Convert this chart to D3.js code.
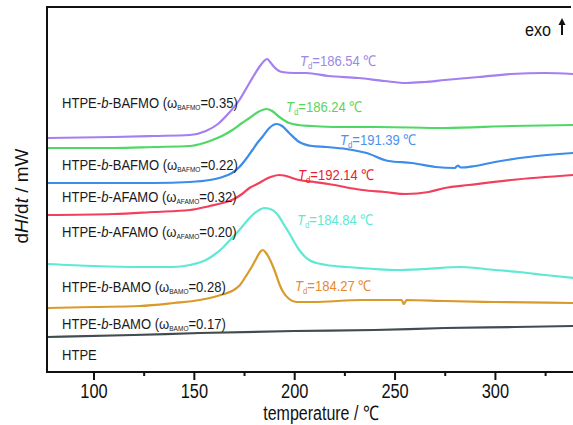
<!DOCTYPE html>
<html><head><meta charset="utf-8">
<script src="https://cdn.jsdelivr.net/npm/d3@7"></script>
<style>html,body{margin:0;padding:0;background:#fff;}svg{display:block;font-family:"Liberation Sans",Arial,sans-serif;}</style>
</head><body>
<svg id="c" width="573" height="425"></svg>
<script>
// temperature (°C) vs heat flow (arbitrary offset units)
const purple = [[77,234],[110,235],[130,236],[148,237],[156,241],[162,248],[167,258],[172.7,272],[177.7,289],[182.6,305],[185,311],[186.5,313],[188,310],[190,305],[194,300],[200,299],[206,299],[217,296],[232,294],[245,291],[256,289],[265,290],[275,292],[292,295],[308,298],[325,299],[339,298]];
const green = [[77,224],[110,224],[130,225],[148,226],[155,229],[159.3,232],[164,236],[169.2,242],[174,249],[177.7,254],[182,260],[186.2,263],[189,261],[192.6,255],[197.5,249],[202,247],[208.9,246],[222,245],[242,245],[275,244],[308,246],[339,247]];
const blue = [[77,189],[110,189],[130,189],[148,190],[158,192],[164.3,195],[169,199],[172.7,205],[176,213],[179.2,222],[182,230],[184.1,235],[187.6,244],[191.1,248],[194,246],[197.5,239],[202.5,230],[208.9,226],[216,225],[226,223],[236,219],[247,211],[258.6,209],[270.5,205],[280,204],[281.5,206.5],[283,204.5],[290,206],[300,210],[316.6,215],[339,219]];
const red = [[77,157],[110,158],[130,160],[148,162],[158,166],[164.3,169],[170,173],[174,178],[177.7,184],[182.6,189],[186,193],[189,195.5],[192.5,197],[195,196.5],[199,194],[202.5,192],[210,190],[217,188],[234,182],[245,180],[255.6,178],[267,180],[275,184],[287,187],[308,192],[339,197]];
const cyan = [[77,108],[100,106],[123,105],[139.5,105],[148,107],[156,112],[160,117],[164.3,124],[168.5,133],[172.7,142],[176,150],[179.2,157],[182.6,162],[185,164],[188,163],[190.5,160],[192.6,155],[195,147],[197.5,139],[200,130],[202.5,122],[205,116],[207.4,112],[211,109],[216,107],[226,105],[240,103],[251,102],[265,103],[283,105],[300,102],[312,100],[325,97],[339,94]];
const orange = [[77,64],[100,65],[123,66],[140,69],[153,72],[160,75],[165,78],[169,81],[173,87],[176,96],[178.5,104],[181,113],[183,120],[184.3,122],[186,119],[188,112],[190.5,100],[192.6,88],[194.5,80],[197.5,73],[201,70],[209,70],[234,72],[253.5,72],[254.6,68],[256,72],[275,71],[300,70],[339,69]];
const black = [[77,35],[120,37],[153,39],[200,41],[240,42],[275,44],[310,45],[339,46]];

const seriesData = [purple, green, blue, red, cyan, orange, black];
const lineColors = ["#a47ff2","#4fd866","#3b8de9","#f2405c","#5fe8d4","#d99a2c","#414c50"];

const sampleLabels = [
  {pre:"HTPE-", it:"b", mid:"-BAFMO (", sub:"BAFMO", val:"=0.35)"},
  {pre:"HTPE-", it:"b", mid:"-BAFMO (", sub:"BAFMO", val:"=0.22)"},
  {pre:"HTPE-", it:"b", mid:"-AFAMO (", sub:"AFAMO", val:"=0.32)"},
  {pre:"HTPE-", it:"b", mid:"-AFAMO (", sub:"AFAMO", val:"=0.20)"},
  {pre:"HTPE-", it:"b", mid:"-BAMO (", sub:"BAMO", val:"=0.28)"},
  {pre:"HTPE-", it:"b", mid:"-BAMO (", sub:"BAMO", val:"=0.17)"},
  {pre:"HTPE"}
];
const sampleLabelY = [108,170,202,237,292,329,360];

const tdValues = ["186.54","186.24","191.39","192.14","184.84","184.27"];
const tdColors = ["#9a88e4","#5cd45c","#4a92ec","#e8202e","#5ee8cf","#e8892e"];
const tdPos = [[300,66],[286,112],[340,145],[298,180],[297,225],[295,291]];

const majorTicks = [100,150,200,250,300];
const minorTicks = [125,175,225,275,325];

(function(){
const svg = d3.select("#c");
const pL = 47, pR = 573, pT = 7, pB = 372;
const x = d3.scaleLinear().domain([76.84, 338.9]).range([pL, pR]);
const y = d3.scaleLinear().domain([0, 365]).range([pB, pT]);

svg.append("defs").append("clipPath").attr("id","clip")
  .append("rect").attr("x",pL).attr("y",pT).attr("width",pR-pL).attr("height",pB-pT);

const line = d3.line().x(d=>x(d[0])).y(d=>y(d[1])).curve(d3.curveMonotoneX);
svg.append("g").attr("clip-path","url(#clip)")
  .selectAll("path").data(seriesData).join("path")
  .attr("d", line).attr("fill","none")
  .attr("stroke",(d,i)=>lineColors[i]).attr("stroke-width",2.2).attr("stroke-linejoin","round");

// frame
svg.append("line").attr("x1",pL).attr("x2",571).attr("y1",pT).attr("y2",pT).attr("stroke","#111").attr("stroke-width",2);
svg.append("line").attr("x1",pL).attr("x2",pL).attr("y1",pT-1).attr("y2",pB+1).attr("stroke","#111").attr("stroke-width",2);

// x axis
const ax = svg.append("g").attr("transform",`translate(0,${pB})`)
  .call(d3.axisBottom(x).tickValues(majorTicks).tickSize(8).tickSizeOuter(0));
ax.select(".domain").attr("stroke","#111").attr("stroke-width",2).attr("d",`M${pL},0H${pR}`);
ax.selectAll(".tick line").attr("stroke","#111").attr("stroke-width",2);
ax.selectAll(".tick text").attr("y",26.5).attr("dy",0).attr("font-size",20.5).attr("fill","#111")
  .attr("font-family","Liberation Sans, Arial, sans-serif").attr("transform","scale(0.8,1)");
const axm = svg.append("g").attr("transform",`translate(0,${pB})`)
  .call(d3.axisBottom(x).tickValues(minorTicks).tickSize(4).tickFormat(""));
axm.select(".domain").remove();
axm.selectAll(".tick line").attr("stroke","#111").attr("stroke-width",2);

// axis titles
svg.append("text").attr("transform","translate(321,420) scale(0.8,1)").attr("text-anchor","middle")
  .attr("font-size",20).attr("fill","#111").text("temperature / \u2103");
const yt = svg.append("text").attr("transform","translate(28,196) rotate(-90)").attr("text-anchor","middle")
  .attr("font-size",19).attr("fill","#111");
yt.append("tspan").text("d");
yt.append("tspan").attr("font-style","italic").text("H");
yt.append("tspan").text("/d");
yt.append("tspan").attr("font-style","italic").text("t");
yt.append("tspan").text(" / mW");

// sample labels
sampleLabels.forEach((l,i)=>{
  const t = svg.append("text").attr("transform",`translate(62,${sampleLabelY[i]}) scale(0.87,1)`)
    .attr("font-size",15).attr("fill","#1a1a1a");
  t.append("tspan").text(l.pre);
  if (l.it) {
    t.append("tspan").attr("font-style","italic").text(l.it);
    t.append("tspan").text(l.mid + "\u03c9");
    t.append("tspan").attr("font-size",7.5).attr("dy",2).text(l.sub);
    t.append("tspan").attr("dy",-2).text(l.val);
  }
});

// Td labels
tdValues.forEach((v,i)=>{
  const t = svg.append("text").attr("transform",`translate(${tdPos[i][0]},${tdPos[i][1]}) scale(0.87,1)`)
    .attr("font-size",15).attr("fill",tdColors[i]);
  t.append("tspan").attr("font-style","italic").text("T");
  t.append("tspan").attr("font-size",9).attr("dy",2.5).text("d");
  t.append("tspan").attr("dy",-2.5).text("=" + v + " \u2103");
});

// exo arrow
svg.append("text").attr("transform","translate(525,36) scale(0.85,1)").attr("font-size",19).attr("fill","#111").text("exo");
svg.append("line").attr("x1",562).attr("x2",562).attr("y1",24).attr("y2",35).attr("stroke","#111").attr("stroke-width",2);
svg.append("path").attr("d","M558.5,25 L562,18 L565.5,25 Z").attr("fill","#111");
})();
</script>
</body></html>
